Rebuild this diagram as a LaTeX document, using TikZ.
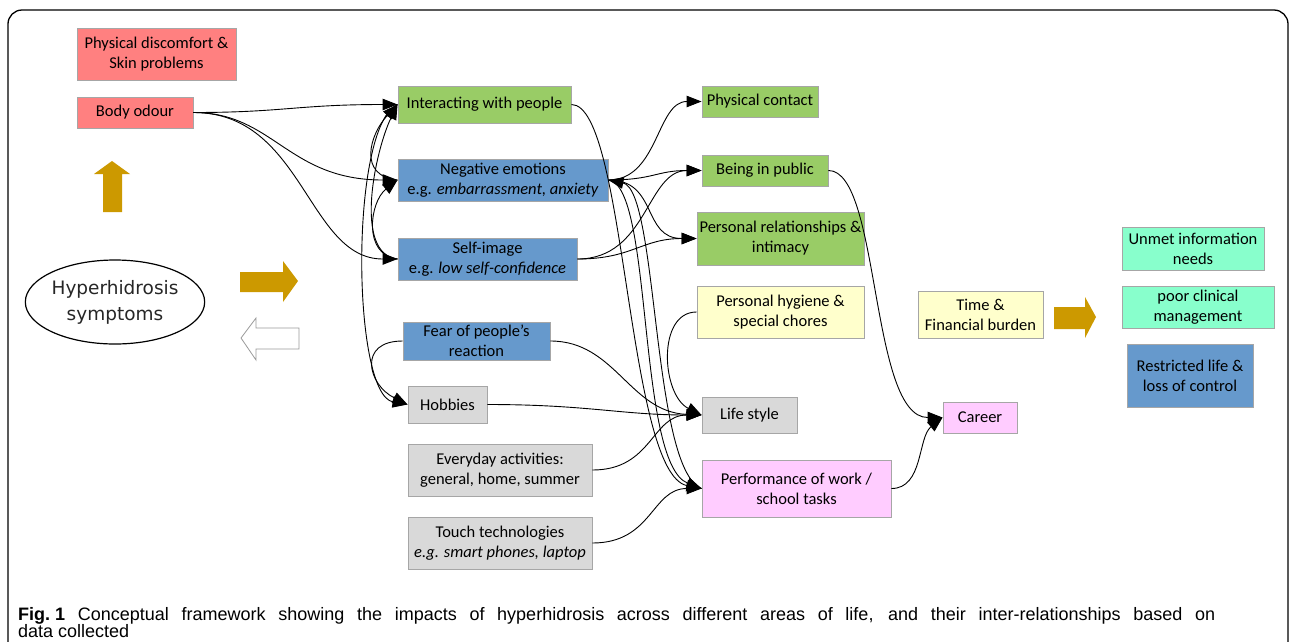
\documentclass[tikz,border=0pt]{standalone}
\usepackage{fontspec}
\usepackage{graphicx}
\setmainfont{Carlito}
\newfontfamily\ellfont{DejaVu Sans}
\newfontfamily\capfont{Liberation Sans}
\usetikzlibrary{arrows.meta,shapes.geometric}
\definecolor{cRed}{HTML}{FF8080}
\definecolor{cGreen}{HTML}{99CC66}
\definecolor{cBlue}{HTML}{6699CC}
\definecolor{cGray}{HTML}{D9D9D9}
\definecolor{cYellow}{HTML}{FFFFCC}
\definecolor{cPink}{HTML}{FFCCFF}
\definecolor{cMint}{HTML}{88FFCC}
\definecolor{cGold}{HTML}{CC9900}
\begin{document}
\begin{tikzpicture}[x=1pt,y=-1pt,
  box/.style={draw=black!35, line width=0.9pt, inner sep=0pt, align=center,
    font=\fontsize{16.5}{20}\selectfont, text=black},
  conn/.style={line width=0.9pt, -{Triangle[length=15pt,width=11.5pt]}},
  goldarrow/.style={fill=cGold, draw=none}]
\useasboundingbox (0,0) rectangle (1290,641);
\begin{scope}
  \clip (0,0) rectangle (1290,641);
  \draw[line width=1.3pt, rounded corners=14pt] (8,10) rectangle (1288,690);
\end{scope}

% left column
\node[box, fill=cRed, minimum width=159pt, minimum height=52pt] (phd) at (156.5,54) {Physical discomfort \&\\ Skin problems};
\node[box, fill=cRed, minimum width=116pt, minimum height=31pt] (body) at (135,112.5) {Body odour};
\node[draw, ellipse, line width=1.2pt, minimum width=170pt, minimum height=84pt, inner sep=0pt,
  align=center, text=black!85, font=\ellfont\fontsize{18.5}{26}\selectfont] (hyp) at (115,302) {Hyperhidrosis\\symptoms};

% second column
\node[box, fill=cGreen, minimum width=173pt, minimum height=37pt] (inter) at (484.5,104.5) {Interacting with people};
\node[box, fill=cBlue, minimum width=210pt, minimum height=42pt] (neg) at (503,180) {Negative emotions\\e.g. \textit{embarrassment, anxiety}};
\node[box, fill=cBlue, minimum width=179pt, minimum height=42pt] (self) at (487.5,259) {Self-image\\e.g. \textit{low self-confidence}};
\node[box, fill=cBlue, minimum width=147pt, minimum height=38pt] (fear) at (476.5,341) {Fear of people's\\reaction};
\node[box, fill=cGray, minimum width=79pt, minimum height=37pt] (hob) at (447.5,404.5) {Hobbies};
\node[box, fill=cGray, minimum width=184pt, minimum height=52pt] (every) at (500,470) {Everyday activities:\\general, home, summer};
\node[box, fill=cGray, minimum width=184pt, minimum height=52pt] (touch) at (500,543) {Touch technologies\\\textit{e.g. smart phones, laptop}};

% third column
\node[box, fill=cGreen, minimum width=116pt, minimum height=31pt] (phys) at (760,101.5) {Physical contact};
\node[box, fill=cGreen, minimum width=126pt, minimum height=31pt] (pub) at (765,170.5) {Being in public};
\node[box, fill=cGreen, minimum width=167pt, minimum height=53pt] (rel) at (780.5,238.5) {Personal relationships \&\\intimacy};
\node[box, fill=cYellow, minimum width=167pt, minimum height=52pt] (hyg) at (780.5,312) {Personal hygiene \&\\special chores};
\node[box, fill=cGray, minimum width=95pt, minimum height=36pt] (life) at (749.5,415) {Life style};
\node[box, fill=cPink, minimum width=189pt, minimum height=57pt] (perf) at (796.5,488.5) {Performance of work /\\school tasks};

% fourth column
\node[box, fill=cYellow, minimum width=125pt, minimum height=47pt] (time) at (980.5,314.5) {Time \&\\Financial burden};
\node[box, fill=cPink, minimum width=74pt, minimum height=31pt] (career) at (980,417.5) {Career};

% fifth column
\node[box, fill=cMint, minimum width=142pt, minimum height=43pt] (unmet) at (1193,248.5) {Unmet information\\needs};
\node[box, fill=cMint, minimum width=152pt, minimum height=42pt] (poor) at (1198,307) {poor clinical\\management};
\node[box, fill=cBlue, minimum width=126pt, minimum height=63pt] (restr) at (1190,375.5) {Restricted life \&\\loss of control};

% block arrows
\fill[goldarrow] (112,161) -- (130,174) -- (122,174) -- (122,212) -- (103,212) -- (103,174) -- (94,174) -- cycle;
\fill[goldarrow] (240,272) -- (283,272) -- (283,261) -- (298,281) -- (283,302) -- (283,292) -- (240,292) -- cycle;
\draw[fill=white, draw=black!40, line width=0.8pt] (299,328) -- (256,328) -- (256,318) -- (241,338) -- (256,360) -- (256,349) -- (299,349) -- cycle;
\fill[goldarrow] (1054,307) -- (1085,307) -- (1085,297) -- (1096,317) -- (1085,338) -- (1085,329) -- (1054,329) -- cycle;

% connectors, left cluster
\draw[conn] (body.east) .. controls +(90,0) and +(-100,0) .. (inter.west);
\draw[conn] (body.east) .. controls +(80,0) and +(-110,0) .. (neg.west);
\draw[conn] (body.east) .. controls +(110,0) and +(-90,0) .. (self.west);
\draw[conn] (neg.west) .. controls +(-40,-4) and +(-28,30) .. (inter.west);
\draw[conn] (self.west) .. controls +(-45,-5) and +(-22,45) .. (inter.west);
\draw[conn] (self.west) .. controls +(-35,-4) and +(-28,22) .. (neg.west);
\draw[conn] (inter.west) .. controls +(-48,21) and +(-56,-10) .. (hob.west);
\draw[conn] (fear.west) .. controls +(-45,0) and +(-40,-20) .. (hob.west);

% connectors, middle
\draw[conn] (inter.east) .. controls +(55,0) and +(-75,-15) .. (perf.west);
\draw[conn] (neg.east) .. controls +(45,5) and +(-65,-25) .. (perf.west);
\draw[conn] (perf.west) .. controls +(-50,-20) and +(50,10) .. (neg.east);
\draw[conn] (neg.east) .. controls +(50,0) and +(-45,0) .. (phys.west);
\draw[conn] (neg.east) .. controls +(45,0) and +(-45,0) .. (pub.west);
\draw[conn] (neg.east) .. controls +(50,0) and +(-55,0) .. (rel.west);
\draw[conn] (self.east) .. controls +(70,0) and +(-55,0) .. (pub.west);
\draw[conn] (self.east) .. controls +(55,0) and +(-55,0) .. (rel.west);
\draw[conn] (hyg.west) .. controls +(-40,0) and +(-40,-20) .. (life.west);
\draw[conn] (fear.east) .. controls +(65,0) and +(-72,-3) .. (life.west);
\draw[conn] (hob.east) .. controls +(100,0) and +(-80,0) .. (life.west);
\draw[conn] (every.east) .. controls +(60,0) and +(-50,0) .. (life.west);
\draw[conn] (touch.east) .. controls +(60,0) and +(-50,0) .. (perf.west);

% connectors, right
\draw[conn] (pub.east) .. controls +(52,0) and +(-73,0) .. (career.west);
\draw[conn] (perf.east) .. controls +(32,0) and +(-25,20) .. (career.west);

% caption
\node[anchor=base west, inner sep=0pt, font=\capfont\fontsize{18}{20}\selectfont] (cap1) at (18,620) {\makebox[1197pt][s]{\textbf{Fig.\hbox to 0.28em{}1} Conceptual framework showing the impacts of hyperhidrosis across different areas of life, and their inter-relationships based on}};
\node[anchor=base west, inner sep=0pt, font=\capfont\fontsize{18}{20}\selectfont] (cap2) at (18,637) {data collected};
\end{tikzpicture}
\end{document}
